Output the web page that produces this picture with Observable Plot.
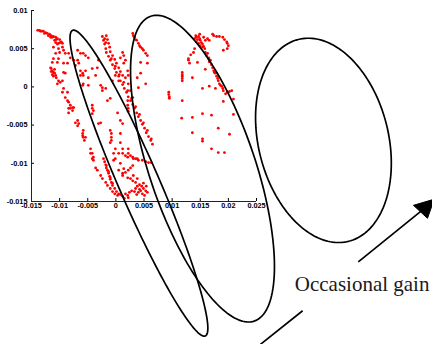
<!DOCTYPE html>
<html><head><meta charset="utf-8">
<script src="https://cdn.jsdelivr.net/npm/d3@7"></script>
<script src="https://cdn.jsdelivr.net/npm/@observablehq/plot@0.6"></script>
<style>html,body{margin:0;padding:0;background:#fff;} #chart svg{display:block;} #chart svg text{font-weight:bold;}</style>
</head><body><div id="chart"></div>
<script>
const xTicks = [-0.015,-0.01,-0.005,0,0.005,0.01,0.015,0.02,0.025];
const yTicks = [-0.015,-0.01,-0.005,0,0.005,0.01];

const arcPts = [[-0.0139,0.0074],[-0.0136,0.0074],[-0.0132,0.0073],[-0.0129,0.0073],[-0.0125,0.0071],[-0.0122,0.0070],[-0.0118,0.0069],[-0.0115,0.0067],[-0.0111,0.0066],[-0.0107,0.0065],[-0.0104,0.0063],[-0.0100,0.0062],[-0.0097,0.0059],[-0.0095,0.0057],[-0.0099,0.0058],[-0.0106,0.0062],[-0.0113,0.0065],[-0.0120,0.0067],[-0.0127,0.0070],[-0.0134,0.0073],[-0.0102,0.0057],[-0.0109,0.0061],[-0.0116,0.0065]];

const leftBandPts = [[-0.0107,0.0058],[-0.0104,0.0056],[-0.0111,0.0052],[-0.0102,0.0050],[-0.0095,0.0052],[-0.0093,0.0048],[-0.0100,0.0045],[-0.0090,0.0044],[-0.0107,0.0044],[-0.0084,0.0044],[-0.0111,0.0037],[-0.0102,0.0037],[-0.0104,0.0032],[-0.0093,0.0031],[-0.0086,0.0031],[-0.0113,0.0032],[-0.0116,0.0025],[-0.0115,0.0024],[-0.0113,0.0021],[-0.0115,0.0020],[-0.0111,0.0019],[-0.0113,0.0016],[-0.0109,0.0018],[-0.0107,0.0015],[-0.0111,0.0014],[-0.0106,0.0012],[-0.0109,0.0023],[-0.0093,0.0019],[-0.0090,0.0018],[-0.0102,0.0008],[-0.0099,0.0006],[-0.0104,0.0004],[-0.0095,0.0008],[-0.0093,-0.0002],[-0.0095,-0.0007],[-0.0086,-0.0007],[-0.0090,-0.0014],[-0.0086,-0.0018],[-0.0084,-0.0020],[-0.0081,-0.0024],[-0.0077,-0.0027],[-0.0084,-0.0028],[-0.0081,-0.0028],[-0.0077,-0.0031],[-0.0084,-0.0034],[-0.0075,-0.0027],[-0.0068,-0.0044],[-0.0072,-0.0047],[-0.0066,-0.0048],[-0.0068,-0.0051],[-0.0059,-0.0061],[-0.0058,-0.0066],[-0.0056,-0.0070],[-0.0058,-0.0057],[-0.0059,-0.0064],[-0.0054,-0.0066],[-0.0045,-0.0081],[-0.0042,-0.0087],[-0.0040,-0.0092],[-0.0042,-0.0094],[-0.0040,-0.0096],[-0.0045,-0.0087],[-0.0036,-0.0106],[-0.0033,-0.0109],[-0.0027,-0.0116],[-0.0024,-0.0120],[-0.0018,-0.0125],[-0.0015,-0.0129],[-0.0010,-0.0133],[-0.0006,-0.0137],[-0.0002,-0.0140],[0.0003,-0.0142]];

const innerPts = [[-0.0081,0.0038],[-0.0075,0.0035],[-0.0068,0.0035],[-0.0066,0.0031],[-0.0072,0.0028],[-0.0063,0.0021],[-0.0059,0.0018],[-0.0058,0.0015],[-0.0063,0.0015],[-0.0054,0.0021],[-0.0058,0.0004],[-0.0059,0.0002],[-0.0049,0.0002],[-0.0042,0.0024],[-0.0033,0.0025],[-0.0036,0.0015],[-0.0024,-0.0001],[-0.0018,-0.0002],[-0.0010,-0.0015],[-0.0001,0.0015],[0.0005,0.0008],[-0.0006,0.0008],[-0.0058,0.0044],[-0.0031,0.0035],[-0.0049,0.0012],[-0.0027,0.0002],[-0.0024,-0.0005],[-0.0042,-0.0028],[-0.0040,-0.0031],[-0.0015,-0.0018],[-0.0042,-0.0024],[-0.0042,-0.0035],[-0.0031,-0.0048],[-0.0027,-0.0047],[0.0003,-0.0034],[0.0008,-0.0044],[0.0012,-0.0048],[0.0008,-0.0061],[-0.0068,0.0048],[-0.0063,0.0044],[-0.0054,0.0041],[-0.0049,0.0038]];

const midBandPts = [[-0.0024,0.0066],[-0.0022,0.0061],[-0.0020,0.0056],[-0.0018,0.0050],[-0.0017,0.0045],[-0.0013,0.0040],[-0.0010,0.0035],[-0.0006,0.0029],[-0.0002,0.0024],[0.0001,0.0019],[0.0005,0.0014],[0.0008,0.0008],[0.0012,0.0003],[0.0015,-0.0002],[0.0019,-0.0007],[0.0022,-0.0013],[0.0026,-0.0018],[0.0030,-0.0023],[0.0033,-0.0028],[0.0037,-0.0034],[0.0040,-0.0039],[0.0044,-0.0044],[0.0047,-0.0049],[0.0051,-0.0054],[0.0054,-0.0060],[0.0058,-0.0065],[0.0062,-0.0070],[0.0065,-0.0075],[-0.0017,0.0067],[-0.0015,0.0062],[-0.0013,0.0057],[-0.0011,0.0052],[-0.0010,0.0046],[-0.0006,0.0041],[-0.0002,0.0036],[0.0001,0.0031],[0.0005,0.0025],[0.0008,0.0020],[0.0012,0.0015],[-0.0020,0.0063],[-0.0018,0.0058],[-0.0008,0.0037],[-0.0001,0.0027],[0.0006,0.0016],[0.0014,0.0006],[0.0021,-0.0005],[0.0028,-0.0015],[0.0035,-0.0026],[0.0042,-0.0036],[0.0049,-0.0047],[0.0056,-0.0057],[0.0063,-0.0068],[0.0021,-0.0024],[0.0022,-0.0028],[0.0022,-0.0032]];

const upperMidPts = [[0.0030,0.0070],[0.0031,0.0067],[0.0033,0.0065],[0.0035,0.0062],[0.0037,0.0061],[0.0040,0.0057],[0.0042,0.0054],[0.0044,0.0052],[0.0047,0.0050],[0.0049,0.0048],[0.0053,0.0044],[0.0056,0.0041],[0.0044,0.0032],[0.0056,0.0031],[0.0038,0.0012],[0.0053,0.0004],[0.0044,0.0018],[0.0040,-0.0001],[0.0012,0.0045],[0.0014,0.0041],[0.0008,0.0038],[0.0017,0.0035],[0.0014,0.0031],[0.0021,0.0021],[0.0022,0.0015],[0.0017,0.0012],[0.0022,0.0004],[0.0026,-0.0005],[0.0030,-0.0014],[0.0021,-0.0018]];

const lowerMidPts = [[-0.0010,-0.0057],[-0.0008,-0.0061],[-0.0008,-0.0066],[-0.0008,-0.0070],[-0.0010,-0.0073],[-0.0001,-0.0081],[-0.0004,-0.0087],[-0.0001,-0.0094],[-0.0004,-0.0096],[0.0005,-0.0087],[0.0008,-0.0100],[0.0005,-0.0109],[0.0012,-0.0113],[0.0012,-0.0087],[0.0017,-0.0090],[0.0021,-0.0092],[0.0022,-0.0087],[0.0026,-0.0090],[0.0030,-0.0092],[0.0031,-0.0094],[0.0035,-0.0094],[0.0038,-0.0094],[0.0040,-0.0096],[0.0047,-0.0096],[0.0053,-0.0098],[0.0058,-0.0099],[0.0063,-0.0099],[0.0008,-0.0073],[0.0012,-0.0081],[0.0022,-0.0081],[0.0014,-0.0107],[0.0017,-0.0112],[0.0012,-0.0116],[0.0022,-0.0109],[0.0026,-0.0106],[0.0030,-0.0103],[0.0021,-0.0119],[0.0026,-0.0120],[0.0031,-0.0116],[0.0030,-0.0123],[0.0035,-0.0125],[0.0038,-0.0120],[0.0035,-0.0133],[0.0038,-0.0130],[0.0042,-0.0128],[0.0046,-0.0130],[0.0049,-0.0133],[0.0053,-0.0136],[0.0056,-0.0138],[0.0044,-0.0136],[0.0040,-0.0138],[0.0047,-0.0140],[0.0051,-0.0142],[0.0037,-0.0141],[0.0033,-0.0137],[0.0042,-0.0134],[0.0049,-0.0126],[0.0054,-0.0130],[0.0008,-0.0141],[0.0012,-0.0143],[0.0017,-0.0140],[0.0021,-0.0142],[0.0024,-0.0138],[0.0028,-0.0136],[0.0015,-0.0146],[0.0022,-0.0145],[-0.0022,-0.0094],[-0.0020,-0.0098],[-0.0018,-0.0102],[-0.0017,-0.0106],[-0.0015,-0.0109],[-0.0013,-0.0113],[-0.0011,-0.0117],[-0.0010,-0.0121],[-0.0008,-0.0125],[-0.0006,-0.0129],[-0.0002,-0.0133],[0.0001,-0.0137],[0.0005,-0.0140],[-0.0017,-0.0103],[-0.0013,-0.0111],[-0.0010,-0.0119],[-0.0006,-0.0126]];

const rightPts = [[0.0142,0.0067],[0.0143,0.0065],[0.0145,0.0062],[0.0147,0.0066],[0.0149,0.0063],[0.0150,0.0061],[0.0152,0.0058],[0.0154,0.0056],[0.0156,0.0053],[0.0158,0.0050],[0.0143,0.0059],[0.0147,0.0057],[0.0150,0.0054],[0.0154,0.0052],[0.0140,0.0063],[0.0149,0.0069],[0.0156,0.0065],[0.0159,0.0061],[0.0172,0.0069],[0.0174,0.0067],[0.0179,0.0066],[0.0184,0.0066],[0.0190,0.0065],[0.0193,0.0062],[0.0197,0.0059],[0.0198,0.0057],[0.0200,0.0054],[0.0198,0.0050],[0.0163,0.0063],[0.0166,0.0061],[0.0159,0.0045],[0.0161,0.0041],[0.0165,0.0037],[0.0166,0.0033],[0.0170,0.0029],[0.0172,0.0025],[0.0174,0.0021],[0.0177,0.0018],[0.0179,0.0014],[0.0182,0.0008],[0.0184,0.0004],[0.0186,0.0002],[0.0190,-0.0002],[0.0191,-0.0005],[0.0195,-0.0009],[0.0198,-0.0007],[0.0202,-0.0006],[0.0206,-0.0005],[0.0163,0.0044],[0.0168,0.0035],[0.0175,0.0019],[0.0181,0.0011],[0.0188,0.0001],[0.0138,0.0045],[0.0145,0.0032],[0.0129,0.0037],[0.0129,0.0035],[0.0131,0.0031],[0.0118,0.0019],[0.0118,0.0016],[0.0118,0.0014],[0.0118,0.0011],[0.0118,0.0008],[0.0136,0.0012],[0.0159,0.0023],[0.0191,0.0048],[0.0154,-0.0002],[0.0166,0.0001],[0.0177,-0.0002],[0.0209,-0.0016],[0.0191,-0.0019],[0.0094,-0.0007],[0.0094,-0.0010],[0.0095,-0.0013],[0.0095,-0.0015],[0.0118,-0.0018],[0.0117,-0.0041],[0.0136,-0.0040],[0.0154,-0.0035],[0.0170,-0.0037],[0.0209,-0.0036],[0.0182,-0.0054],[0.0136,-0.0060],[0.0154,-0.0068],[0.0154,-0.0071],[0.0202,-0.0062],[0.0170,-0.0081],[0.0182,-0.0086],[0.0193,-0.0086],[0.0165,0.0038],[0.0133,0.0042],[0.0140,0.0050]];

// ellipse outlines: centre and two conjugate semi-axis vectors, in data units
const ellipseA = {center: [0.0041, -0.0126], major: [0.0118, -0.0200], minor: [0.0033, 0.00105]};
const ellipseB = {center: [0.0154, -0.0107], major: [0.0092, -0.01995], minor: [0.00889, 0.00222]};
const ellipseC = {center: [0.0369, -0.0070], major: [0.00447, -0.01321], minor: [0.01121, 0.00206]};

// annotation arrow and label
const arrowLower = [{x1: 0.0257, y1: -0.0337, x2: 0.0332, y2: -0.0293}];
const arrowUpper = [{x1: 0.0431, y1: -0.0229, x2: 0.0542, y2: -0.0163}];
const arrowHead = [[0.0566,-0.0147],[0.0529,-0.0155],[0.0554,-0.0172],[0.0566,-0.0147]];
const labelText = [{x: 0.0318, y: -0.0258, text: "Occasional gain"}];

const allPts = [...arcPts, ...leftBandPts, ...innerPts, ...midBandPts, ...upperMidPts, ...lowerMidPts, ...rightPts];

function outline(e) {
  return d3.range(0, 361, 2).map(deg => {
    const t = deg * Math.PI / 180, c = Math.cos(t), s = Math.sin(t);
    return {x: e.center[0] + e.major[0]*c + e.minor[0]*s, y: e.center[1] + e.major[1]*c + e.minor[1]*s};
  });
}

const fmt = d => String(d);
const chart = Plot.plot({
  width: 432, height: 344,
  marginLeft: 31, marginRight: 176, marginTop: 10, marginBottom: 143,
  x: {domain: [-0.015, 0.025], ticks: xTicks, tickFormat: fmt, tickSize: -3, tickPadding: 4, label: null},
  y: {domain: [-0.015, 0.01], ticks: yTicks, tickFormat: fmt, tickSize: -3, tickPadding: 7, label: null},
  style: {fontFamily: "'Liberation Sans', Arial, sans-serif", fontSize: "7.3px", fontWeight: "bold", background: "#fff", color: "#000"},
  marks: [
    Plot.ruleX([-0.015], {stroke: "#222", strokeWidth: 1}),
    Plot.ruleY([-0.015], {stroke: "#222", strokeWidth: 1}),
    Plot.dot(allPts, {x: d => d[0], y: d => d[1], r: 1.4, fill: "#ff0000", stroke: null}),
    Plot.line(outline(ellipseA), {x: "x", y: "y", stroke: "#000", strokeWidth: 1.7}),
    Plot.line(outline(ellipseB), {x: "x", y: "y", stroke: "#000", strokeWidth: 1.7}),
    Plot.line(outline(ellipseC), {x: "x", y: "y", stroke: "#000", strokeWidth: 1.7}),
    Plot.link(arrowLower, {x1: "x1", y1: "y1", x2: "x2", y2: "y2", stroke: "#000", strokeWidth: 1.7}),
    Plot.link(arrowUpper, {x1: "x1", y1: "y1", x2: "x2", y2: "y2", stroke: "#000", strokeWidth: 1.7}),
    Plot.line(arrowHead, {x: d => d[0], y: d => d[1], fill: "#000", stroke: "#000", strokeWidth: 1}),
    Plot.text(labelText, {x: "x", y: "y", text: "text", textAnchor: "start", fontFamily: "'Liberation Serif', 'Times New Roman', serif", fontSize: 21, fontWeight: "normal", fill: "#1a1a1a"})
  ]
});
document.getElementById("chart").appendChild(chart);
document.querySelectorAll("#chart svg text").forEach(t => { if (t.textContent === "Occasional gain") t.style.fontWeight = "normal"; });
</script>
</body></html>
